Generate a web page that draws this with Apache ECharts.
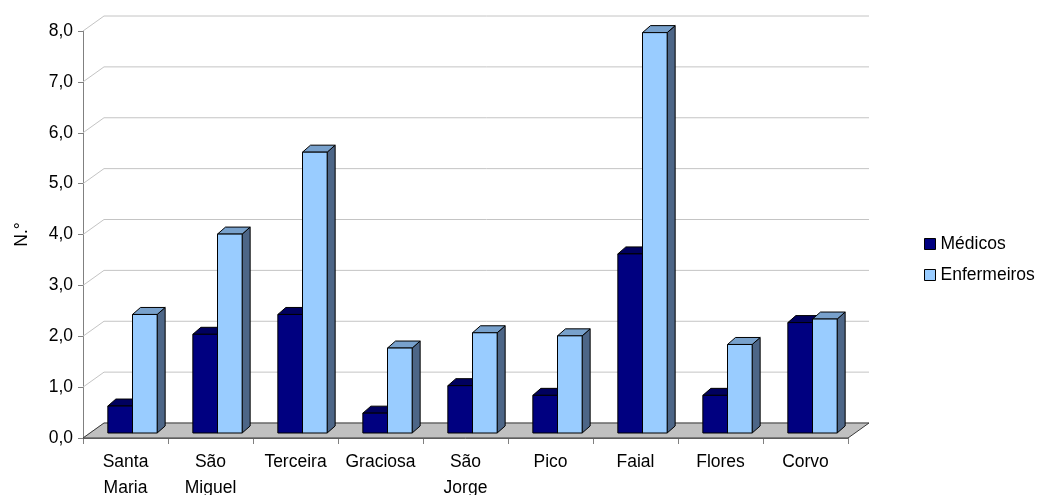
<!DOCTYPE html>
<html>
<head>
<meta charset="utf-8">
<script src="https://cdn.jsdelivr.net/npm/echarts@6/dist/echarts.min.js"></script>
<style>
  html, body { margin: 0; padding: 0; background: #fff; }
  #chart { width: 1038px; height: 495px; }
</style>
</head>
<body>
<div id="chart"></div>
<script>
// Islands (categories) and the two staff series
const islands = ['Santa\nMaria', 'São\nMiguel', 'Terceira', 'Graciosa', 'São\nJorge', 'Pico', 'Faial', 'Flores', 'Corvo'];
const medicos = [0.53, 1.94, 2.33, 0.39, 0.93, 0.74, 3.52, 0.74, 2.17];
const enfermeiros = [2.33, 3.91, 5.52, 1.67, 1.97, 1.91, 7.87, 1.74, 2.24];
const yTicks = [0, 1, 2, 3, 4, 5, 6, 7, 8];

const FONT = '"Liberation Sans", Arial, sans-serif';
const FS = 17.5;

// oblique projection offsets
const WALL = [21, -15];   // back wall relative to the front plane
const PLANE = [7, -5];    // front face of the bars
const DEPTH = [8, -7];    // thickness of a bar

// back-wall gridlines with their short diagonal on the left side
function renderGrid(params, api) {
  const cs = params.coordSys;
  const p = api.coord([0, api.value(1)]);
  const y = p[1];
  return {
    type: 'polyline',
    shape: { points: [[cs.x, y], [cs.x + WALL[0], y + WALL[1]], [cs.x + cs.width + WALL[0], y + WALL[1]]] },
    style: { stroke: '#c4c4c4', lineWidth: 1, fill: null },
    silent: true
  };
}

// grey floor
function renderFloor(params, api) {
  const cs = params.coordSys;
  const y = api.coord([0, 0])[1];
  const l = cs.x, r = cs.x + cs.width;
  return {
    type: 'polygon',
    shape: { points: [[l, y], [r, y], [r + WALL[0], y + WALL[1]], [l + WALL[0], y + WALL[1]]] },
    style: { fill: '#c0c0c0', stroke: '#3a3a3a', lineWidth: 1 },
    silent: true
  };
}

// a 3D bar: front face, top and right side
function makeBars(offsetIndex, colors) {
  return function (params, api) {
    const cat = api.value(0);
    const val = api.value(1);
    const base = api.coord([cat, 0]);
    const top = api.coord([cat, val]);
    const band = api.size([1, 0])[0];
    const bw = band * 0.29;
    const x0 = base[0] + PLANE[0] + offsetIndex * bw;
    const x1 = x0 + bw;
    const yb = base[1] + PLANE[1];
    const yt = top[1] + PLANE[1];
    const dx = DEPTH[0], dy = DEPTH[1];
    const stroke = { stroke: '#000', lineWidth: 1, lineJoin: 'round' };
    return {
      type: 'group',
      children: [
        { type: 'polygon', shape: { points: [[x1, yb], [x1 + dx, yb + dy], [x1 + dx, yt + dy], [x1, yt]] },
          style: Object.assign({ fill: colors.side }, stroke) },
        { type: 'polygon', shape: { points: [[x0, yt], [x1, yt], [x1 + dx, yt + dy], [x0 + dx, yt + dy]] },
          style: Object.assign({ fill: colors.top }, stroke) },
        { type: 'rect', shape: { x: x0, y: yt, width: bw, height: yb - yt },
          style: Object.assign({ fill: colors.front }, stroke) }
      ]
    };
  };
}

const chart = echarts.init(document.getElementById('chart'), null, { renderer: 'canvas' });

chart.setOption({
  animation: false,
  backgroundColor: '#fff',
  textStyle: { fontFamily: FONT },
  grid: { left: 83, right: 190, top: 31, bottom: 57, outerBoundsMode: 'none', containLabel: false },
  legend: {
    orient: 'vertical',
    left: 924,
    top: 235,
    padding: 0,
    itemWidth: 11,
    itemHeight: 11,
    itemGap: 13,
    textStyle: { fontSize: FS, color: '#000', fontFamily: FONT },
    data: [
      { name: 'Médicos', icon: 'rect', itemStyle: { color: '#000080', borderColor: '#000', borderWidth: 1 } },
      { name: 'Enfermeiros', icon: 'rect', itemStyle: { color: '#99ccff', borderColor: '#000', borderWidth: 1 } }
    ]
  },
  xAxis: {
    type: 'category',
    data: islands,
    axisLine: { lineStyle: { color: '#808080', width: 1 } },
    axisTick: { show: true, length: 6, lineStyle: { color: '#808080' } },
    axisLabel: { color: '#000', fontSize: FS, lineHeight: 26, margin: 11, interval: 0, fontFamily: FONT },
    splitLine: { show: false }
  },
  yAxis: {
    type: 'value',
    min: 0,
    max: 8,
    interval: 1,
    name: 'N.°',
    nameLocation: 'middle',
    nameRotate: 90,
    nameGap: 52,
    nameTextStyle: { fontSize: FS, color: '#000', fontFamily: FONT },
    axisLine: { show: true, lineStyle: { color: '#808080', width: 1 } },
    axisTick: { show: true, length: 5, lineStyle: { color: '#808080' } },
    axisLabel: {
      color: '#000', fontSize: FS, margin: 10, fontFamily: FONT,
      formatter: v => v.toFixed(1).replace('.', ',')
    },
    splitLine: { show: false }
  },
  series: [
    {
      name: 'grade', type: 'custom', z: 1, silent: true,
      renderItem: renderGrid,
      data: yTicks.map(v => [0, v])
    },
    {
      name: 'chão', type: 'custom', z: 2, silent: true,
      renderItem: renderFloor,
      data: [[0, 0]]
    },
    {
      name: 'Médicos', type: 'custom', z: 3,
      itemStyle: { color: '#000080' },
      renderItem: makeBars(-1, { front: '#000080', top: '#00005e', side: '#00004a' }),
      data: medicos.map((v, i) => [i, v])
    },
    {
      name: 'Enfermeiros', type: 'custom', z: 4,
      itemStyle: { color: '#99ccff' },
      renderItem: makeBars(0, { front: '#99ccff', top: '#78a1cc', side: '#4d6687' }),
      data: enfermeiros.map((v, i) => [i, v])
    }
  ]
});
</script>
</body>
</html>
